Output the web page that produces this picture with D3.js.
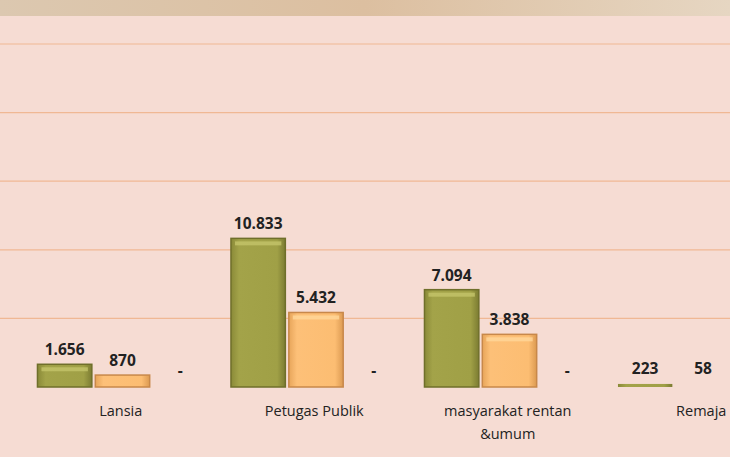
<!DOCTYPE html>
<html><head><meta charset="utf-8">
<script src="https://cdn.jsdelivr.net/npm/d3@7"></script>
<style>body{margin:0;background:#f6dcd3;overflow:hidden}</style>
</head><body><svg id="c" width="730" height="457"></svg>
<script>
(function () {
  var categories = ['Lansia', 'Petugas Publik', 'masyarakat rentan\n&umum', 'Remaja'];
  var series = ['s1', 's2', 's3'];
  var values1 = [1656, 10833, 7094, 223];
  var values2 = [870, 5432, 3838, 58];
  var values3 = [0, 0, 0, null];
  var labels1 = ['1.656', '10.833', '7.094', '223'];
  var labels2 = ['870', '5.432', '3.838', '58'];
  var labels3 = ['-', '-', '-', ''];
  var yTicks = [5000, 10000, 15000, 20000, 25000];

  var svg = d3.select('#c');
  var defs = svg.append('defs');
  function grad(id, stops, vertical) {
    var g = defs.append('linearGradient').attr('id', id)
      .attr('x1', 0).attr('y1', 0).attr('x2', vertical ? 0 : 1).attr('y2', vertical ? 1 : 0);
    stops.forEach(function (s) { g.append('stop').attr('offset', s[0]).attr('stop-color', s[1]); });
  }
  grad('top', [[0, '#dcc8b0'], [0.5, '#dcbfa0'], [1, '#e6d6c2']]);
  grad('g1', [[0, '#8a8a38'], [0.15, '#a3a349'], [0.85, '#a0a046'], [1, '#7c7c32']]);
  grad('g2', [[0, '#e7a55a'], [0.15, '#fdc078'], [0.85, '#fcbd72'], [1, '#dc9a52']]);

  svg.append('rect').attr('width', 730).attr('height', 457).attr('fill', '#f6dcd3');
  svg.append('rect').attr('width', 730).attr('height', 16).attr('fill', 'url(#top)');

  var y = d3.scaleLinear().domain([0, 25000]).range([387, 44]);
  var x = d3.scaleBand().domain(categories).range([26, 800]);
  var sub = d3.scaleBand().domain(series).range([8, 185]).padding(0.06);

  svg.append('g').selectAll('line').data(yTicks).enter().append('line')
    .attr('x1', 0).attr('x2', 730)
    .attr('y1', function (d) { return y(d); }).attr('y2', function (d) { return y(d); })
    .attr('stroke', '#f0b894').attr('stroke-width', 1.2);

  var data = [];
  categories.forEach(function (c, i) {
    data.push({c: c, s: 's1', v: values1[i], l: labels1[i]});
    data.push({c: c, s: 's2', v: values2[i], l: labels2[i]});
    data.push({c: c, s: 's3', v: values3[i], l: labels3[i]});
  });
  var fills = {s1: 'url(#g1)', s2: 'url(#g2)'};
  var edges = {s1: '#6f6f2a', s2: '#c8884a'};
  var hi = {s1: '#c4c46a', s2: '#ffd79a'};

  var bars = data.filter(function (d) { return d.s !== 's3' && d.v; });
  var g = svg.append('g');
  bars.forEach(function (d) {
    var bx = x(d.c) + sub(d.s), bw = sub.bandwidth(), by = y(d.v), bh = y(0) - y(d.v);
    if (bh < 2) return;
    g.append('rect').attr('x', bx).attr('y', by).attr('width', bw).attr('height', bh)
      .attr('fill', fills[d.s]).attr('stroke', bh > 5 ? edges[d.s] : 'none').attr('stroke-width', 1.5);
    if (bh > 12) {
      g.append('rect').attr('x', bx + 4).attr('y', by + 3).attr('width', bw - 8).attr('height', 4)
        .attr('fill', hi[d.s]).attr('opacity', 0.8);
    }
  });

  svg.append('g').selectAll('text').data(data).enter().append('text')
    .attr('x', function (d) { return x(d.c) + sub(d.s) + sub.bandwidth() / 2; })
    .attr('y', function (d) { return d.s === 's3' ? 376 : Math.min(y(d.v || 0) - 9, 374); })
    .attr('text-anchor', 'middle')
    .attr('font-family', 'Open Sans, sans-serif').attr('font-weight', 'bold')
    .attr('font-size', 15.5).attr('fill', '#222')
    .text(function (d) { return d.l; });

  var cl = svg.append('g').selectAll('text').data(categories).enter().append('text')
    .attr('x', function (d) { return x(d) + x.bandwidth() / 2 - 2; })
    .attr('y', 416)
    .attr('text-anchor', 'middle')
    .attr('font-family', 'Open Sans, sans-serif').attr('font-size', 14.5).attr('fill', '#222');
  cl.each(function (d) {
    var t = d3.select(this);
    d.split('\n').forEach(function (line, i) {
      t.append('tspan').attr('x', t.attr('x')).attr('dy', i ? 23 : 0).text(line);
    });
  });
}());
</script></body></html>
